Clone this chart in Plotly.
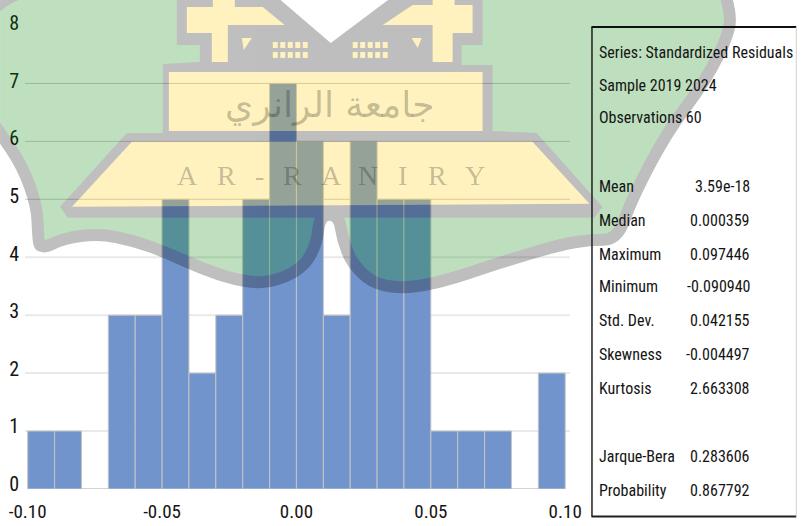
import base64
import plotly.graph_objects as go

# ---- data ----
bin_left = [-0.10, -0.09, -0.08, -0.07, -0.06, -0.05, -0.04, -0.03, -0.02, -0.01,
            0.00, 0.01, 0.02, 0.03, 0.04, 0.05, 0.06, 0.07, 0.08, 0.09]
counts = [1, 1, 0, 3, 3, 5, 2, 3, 5, 7, 6, 3, 6, 5, 5, 1, 1, 1, 0, 2]
x_ticks = [-0.10, -0.05, 0.00, 0.05, 0.10]
x_tick_labels = ["-0.10", "-0.05", "0.00", "0.05", "0.10"]
y_ticks = [0, 1, 2, 3, 4, 5, 6, 7, 8]
grid_levels = [1, 2, 3, 4, 5, 6, 7]
header_lines = ["Series: Standardized Residuals", "Sample 2019 2024", "Observations 60"]
stat_names = ["Mean", "Median", "Maximum", "Minimum", "Std. Dev.", "Skewness", "Kurtosis",
              "Jarque-Bera", "Probability"]
stat_values = ["3.59e-18", "0.000359", "0.097446", "-0.090940", "0.042155", "-0.004497",
               "2.663308", "0.283606", "0.867792"]

# ---- layout geometry (pixels) ----
W, H = 801, 526
L, R, T, B = 25, 570.5, 15, 489.5
FONT = "Roboto Condensed, Carlito, sans-serif"


def px(x):
    return (x - L) / (R - L)


def py(y):
    return (B - y) / (B - T)


# ---- watermark logo, one group at a single opacity ----
def pts(p):
    return " ".join(f"{a},{b}" for a, b in p)


def smooth_closed(p):
    mid = lambda a, b: ((a[0] + b[0]) / 2, (a[1] + b[1]) / 2)
    m0 = mid(p[-1], p[0])
    d = f"M{m0[0]},{m0[1]} "
    for i, c in enumerate(p):
        m = mid(c, p[(i + 1) % len(p)])
        d += f"Q{c[0]},{c[1]} {m[0]},{m[1]} "
    return d + "Z"


green_outline = [(-20, -20), (250, -20), (250, 150), (420, 150), (420, -20), (718, -30), (731, 10), (730, 33),
                 (707, 80), (667, 133), (632, 200), (618, 240), (590, 240), (560, 245), (500, 263),
                 (440, 283), (400, 289), (372, 283), (352, 263), (343, 240), (339, 215), (320, 215), (317, 245),
                 (302, 270), (267, 284), (235, 280), (200, 268), (167, 253), (135, 241), (100, 234),
                 (65, 238), (40, 250), (38, 235), (37, 207), (23, 167), (0, 133), (-20, 105)]
gray_block = [(177, -5), (275, -5), (331, 43), (395, -5), (483, -5), (483, 45), (462, 45), (462, 65),
              (493, 65), (493, 131), (537, 133), (603, 207), (595, 218), (68, 218), (60, 207),
              (127, 133), (163, 133), (163, 64), (200, 62), (200, 45), (177, 45)]
yellow_shapes = [
    [(187, 7), (213, 7), (213, -3), (235, -3), (235, 7), (263, 7), (285, 25), (228, 25), (228, 62), (212, 62),
     (212, 33), (187, 33)],
    [(383, 25), (413, 5), (433, 5), (433, -3), (455, -3), (455, 5), (473, 5), (473, 33), (453, 33), (453, 62),
     (433, 62), (433, 25)],
    [(169, 72), (483, 72), (483, 131), (169, 131)],
    [(132, 142), (533, 142), (590, 204), (72, 207)],
    [(242, 38), (252, 38), (244, 50)],
    [(412, 38), (422, 38), (418, 48)],
]
window_cols = [273, 280.5, 288, 295.5, 303, 353, 360.5, 368, 375.5, 383]
window_rows = [42, 52]
windows = "".join(
    f'<rect x="{c}" y="{r}" width="5" height="6" fill="rgb(255,204,0)"/>'
    for c in window_cols for r in window_rows
)
svg = (
    f'<svg xmlns="http://www.w3.org/2000/svg" width="{W}" height="{H}" viewBox="0 0 {W} {H}">'
    '<defs><filter id="b" x="-5%" y="-5%" width="110%" height="110%"><feGaussianBlur stdDeviation="0.7"/></filter></defs>'
    '<g opacity="0.25" filter="url(#b)">'
    f'<path d="{smooth_closed(green_outline)}" fill="rgb(0,132,4)" stroke="#000" stroke-width="12" stroke-linejoin="round"/>'
    f'<polygon points="{pts(gray_block)}" fill="#000"/>'
    + "".join(f'<polygon points="{pts(s)}" fill="rgb(255,204,0)"/>' for s in yellow_shapes)
    + windows + "</g></svg>"
)
logo = "data:image/svg+xml;base64," + base64.b64encode(svg.encode()).decode()

# ---- figure ----
fig = go.Figure()
fig.add_trace(go.Bar(
    x=[v + 0.005 for v in bin_left], y=counts, width=0.01,
    marker=dict(color="#7294CC", line=dict(color="#C4C4C4", width=1)),
))
# the count labels sit on their own overlaid axis, a few pixels above the gridlines as in the source
fig.add_trace(go.Scatter(x=x_ticks[:1], y=y_ticks[:1], yaxis="y2", mode="none", hoverinfo="skip"))

shapes = []
for lvl in grid_levels:
    upper = lvl >= 5
    shapes.append(dict(type="line", xref="paper", yref="y", x0=0, x1=1, y0=lvl, y1=lvl, layer="below",
                       line=dict(color="rgba(90,90,90,0.30)" if upper else "#E9E9E9", width=1 if upper else 2)))
# statistics box: three dark sides, a faint right side
shapes += [
    dict(type="line", xref="paper", yref="paper", x0=px(592.5), x1=px(592.5), y0=py(27), y1=py(517),
         line=dict(color="#202020", width=1.5)),
    dict(type="line", xref="paper", yref="paper", x0=px(592), x1=px(797), y0=py(27), y1=py(27),
         line=dict(color="#101010", width=2)),
    dict(type="line", xref="paper", yref="paper", x0=px(592), x1=px(797), y0=py(517), y1=py(517),
         line=dict(color="#202020", width=2)),
    dict(type="line", xref="paper", yref="paper", x0=px(797), x1=px(797), y0=py(27), y1=py(517),
         line=dict(color="#D0D0D0", width=1)),
]

annotations = []


def text(x, y, s, size=16, anchor="left", color="#141414", family=FONT):
    annotations.append(dict(x=px(x), y=py(y + 0.6), xref="paper", yref="paper", text=s, showarrow=False,
                            xanchor=anchor, yanchor="middle", xshift=0, yshift=0,
                            font=dict(family=family, size=size, color=color)))


for s, y in zip(header_lines, [52, 85, 117]):
    text(598, y, s)
for name, value, y in zip(stat_names, stat_values, [186, 220, 254, 286, 320, 354, 388, 456, 490]):
    text(598, y, name)
    text(753, y, value, anchor="right")

# watermark lettering
text(330, 104, "جامعة الرانري", size=36, anchor="center", color="rgba(0,0,0,0.24)", family="DejaVu Sans")
for ch, x in zip("AR-RANIRY", [188, 227, 260, 293, 332, 368, 403, 438, 475]):
    text(x, 175, ch, size=28, anchor="center", color="rgba(0,0,0,0.24)", family="Liberation Serif")

tick_font = dict(family=FONT, size=20, color="#141414")
fig.update_layout(
    template="none",
    width=W, height=H, margin=dict(l=L, r=W - R, t=T, b=H - B, pad=0),
    autosize=False, showlegend=False, paper_bgcolor="white", plot_bgcolor="rgba(0,0,0,0)",
    font=dict(family=FONT, size=19, color="#141414"),
    xaxis=dict(range=[(L - 296.7) / 2690, (R - 296.7) / 2690], tickmode="array", tickvals=x_ticks,
               ticktext=x_tick_labels, showgrid=False, zeroline=False, showline=False, ticks="",
               automargin=False, ticklabelstandoff=9, tickfont=dict(family=FONT, size=19, color="#141414")),
    yaxis=dict(range=[0, (B - T) / 58], showgrid=False, zeroline=False,
               showline=False, ticks="", automargin=False, showticklabels=False),
    yaxis2=dict(overlaying="y", side="left", range=[-0.085, 8.139], tickmode="array", tickvals=y_ticks,
                showgrid=False, zeroline=False, showline=False, ticks="", automargin=False,
                ticklabelstandoff=5, tickfont=tick_font),
    shapes=shapes, annotations=annotations,
    images=[dict(source=logo, xref="paper", yref="paper", x=px(0), y=py(0), sizex=W / (R - L),
                 sizey=H / (B - T), xanchor="left", yanchor="top", sizing="stretch", layer="above")],
)
fig.write_html("out.html", config={"displayModeBar": False}, post_script="document.body.style.margin='0';")
